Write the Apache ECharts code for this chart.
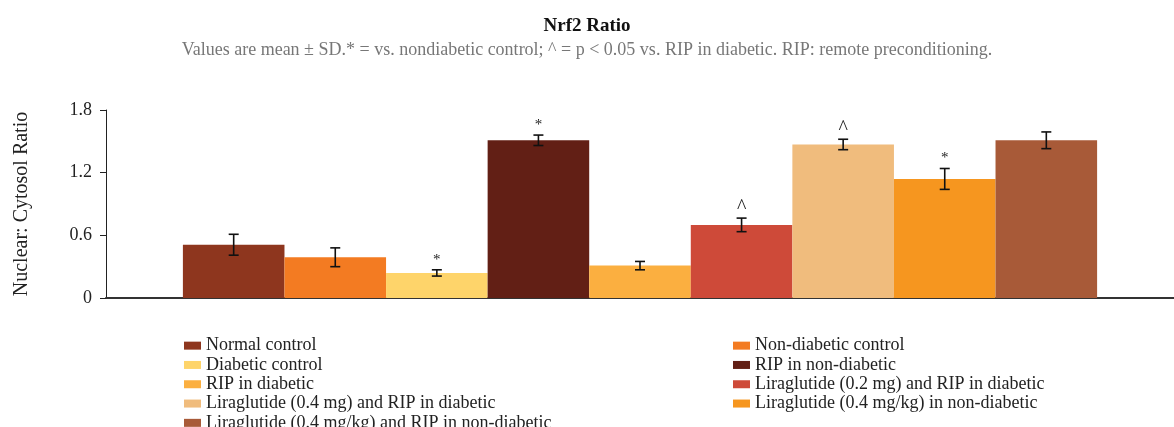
<!DOCTYPE html>
<html>
<head>
<meta charset="utf-8">
<title>Nrf2 Ratio</title>
<script src="https://cdn.jsdelivr.net/npm/echarts@6/dist/echarts.min.js"></script>
<style>
  html, body { margin: 0; padding: 0; background: #fff; }
  #chart { width: 1174px; height: 427px; }
</style>
</head>
<body>
<div id="chart"></div>
<script>
// groups, in the order they are drawn
const groups = [
  'Normal control',
  'Non-diabetic control',
  'Diabetic control',
  'RIP in non-diabetic',
  'RIP in diabetic',
  'Liraglutide (0.2 mg) and RIP in diabetic',
  'Liraglutide (0.4 mg) and RIP in diabetic',
  'Liraglutide (0.4 mg/kg) in non-diabetic',
  'Liraglutide (0.4 mg/kg) and RIP in non-diabetic'
];
const means = [0.51, 0.39, 0.24, 1.51, 0.31, 0.70, 1.47, 1.14, 1.51];
const sds = [0.10, 0.09, 0.03, 0.05, 0.04, 0.065, 0.05, 0.10, 0.08];
const marks = ['', '', '*', '*', '', '^', '^', '*', ''];
const yTicks = [0, 0.6, 1.2, 1.8];

const colors = ['#8E361E', '#F37B22', '#FED46A', '#621F15', '#FBAF40',
                '#CE4A39', '#F0BC7D', '#F6961F', '#A85A38'];
const GAP = 0.144;
const FONT = '"Liberation Serif", "DejaVu Serif", serif';

const chart = echarts.init(document.getElementById('chart'));

const barSeries = groups.map(function (name, i) {
  return {
    name: name,
    type: 'bar',
    barGap: 0,
    barCategoryGap: (GAP * 100) + '%',
    itemStyle: { color: colors[i] },
    emphasis: { disabled: true },
    data: [means[i]]
  };
});

// error bars + significance marks
const errSeries = {
  type: 'custom',
  silent: true,
  z: 5,
  encode: { x: 0, y: 1 },
  data: means.map(function (m, i) { return [0, m, sds[i], i]; }),
  renderItem: function (params, api) {
    const i = api.value(3);
    const m = api.value(1);
    const sd = api.value(2);
    const band = api.size([1, 0])[0];
    const w = band * (1 - GAP) / groups.length;
    const cx = api.coord([0, m])[0] + (i - (groups.length - 1) / 2) * w;
    const yTop = api.coord([0, m + sd])[1];
    const yBot = api.coord([0, m - sd])[1];
    const st = { stroke: '#111', lineWidth: 1.6 };
    const kids = [
      { type: 'line', shape: { x1: cx, y1: yTop, x2: cx, y2: yBot }, style: st },
      { type: 'line', shape: { x1: cx - 5, y1: yTop, x2: cx + 5, y2: yTop }, style: st },
      { type: 'line', shape: { x1: cx - 5, y1: yBot, x2: cx + 5, y2: yBot }, style: st }
    ];
    const mk = marks[i];
    if (mk) {
      kids.push({
        type: 'text',
        style: {
          text: mk, x: cx, y: yTop - (mk === '*' ? 10 : 10),
          align: 'center', verticalAlign: 'middle',
          font: (mk === '*' ? '15px ' : '20px ') + FONT,
          fill: '#222'
        }
      });
    }
    return { type: 'group', children: kids };
  }
};

const legendBase = {
  orient: 'vertical',
  top: 336,
  height: 120,
  padding: 0,
  itemWidth: 17,
  itemHeight: 8,
  itemGap: 0,
  icon: 'rect',
  textStyle: { fontFamily: FONT, fontSize: 18, color: '#222', lineHeight: 19.3 }
};

chart.setOption({
  textStyle: { fontFamily: FONT },
  title: {
    text: 'Nrf2 Ratio',
    subtext: 'Values are mean \u00b1 SD.* = vs. nondiabetic control; ^ = p < 0.05 vs. RIP in diabetic. RIP: remote preconditioning.',
    left: 'center',
    top: 12,
    itemGap: 5,
    textStyle: { fontFamily: FONT, fontSize: 19, fontWeight: 'bold', color: '#111' },
    subtextStyle: { fontFamily: FONT, fontSize: 18, color: '#777' }
  },
  legend: [
    Object.assign({}, legendBase, { left: 184, data: groups.filter(function (g, i) { return i % 2 === 0; }) }),
    Object.assign({}, legendBase, { left: 733, data: groups.filter(function (g, i) { return i % 2 === 1; }) })
  ],
  grid: { left: 106, top: 110, width: 1080, height: 188, containLabel: false },
  xAxis: {
    type: 'category',
    data: ['Nrf2'],
    axisLabel: { show: false },
    axisTick: { show: false },
    axisLine: { lineStyle: { color: '#333', width: 2 } }
  },
  yAxis: {
    type: 'value',
    min: yTicks[0],
    max: yTicks[yTicks.length - 1],
    interval: 0.6,
    name: 'Nuclear: Cytosol Ratio',
    nameLocation: 'middle',
    nameGap: 74,
    nameTextStyle: { fontFamily: FONT, fontSize: 20, color: '#222' },
    axisLine: { show: true, lineStyle: { color: '#222', width: 1 } },
    axisTick: { show: true, length: 6, lineStyle: { color: '#222' } },
    splitLine: { show: false },
    axisLabel: {
      fontFamily: FONT, fontSize: 18, color: '#222', margin: 14,
      formatter: function (v) { return v === 0 ? '0' : v.toFixed(1); }
    }
  },
  series: barSeries.concat([errSeries])
});

window.addEventListener('resize', function () {
  chart.resize();
});
</script>
</body>
</html>
